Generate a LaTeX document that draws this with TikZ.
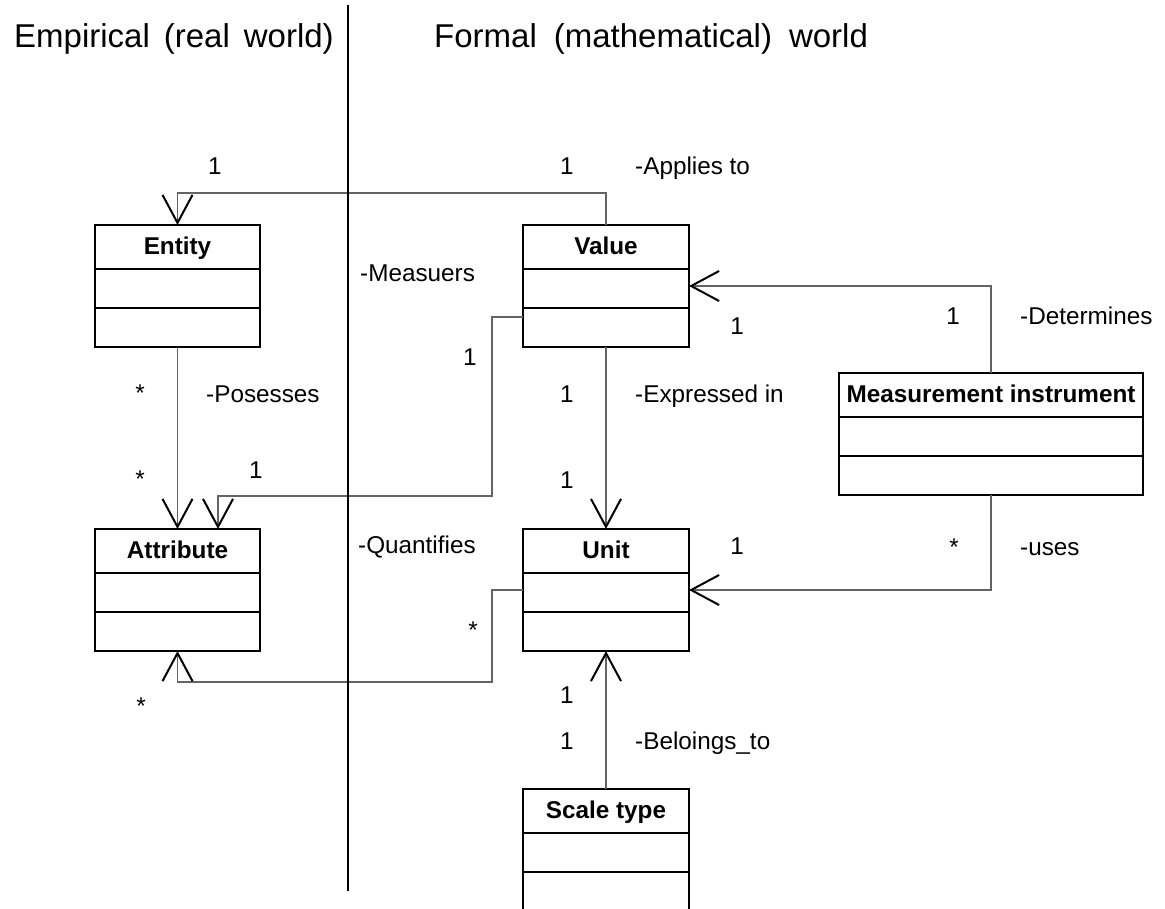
\documentclass[tikz,border=0pt]{standalone}
\usepackage{fontspec}
\setmainfont{Liberation Sans}
\usetikzlibrary{arrows.meta}
\definecolor{connline}{RGB}{100,100,100}

% A UML class box: name, centre x, top y, width, class name
\newcommand{\umlclass}[5]{%
  \node[classbox, minimum width=#4pt, anchor=north] (#1) at (#2,#3) {};
  \draw[classrule] ([yshift=-44pt]#1.north west) -- ([yshift=-44pt]#1.north east);
  \draw[classrule] ([yshift=-83pt]#1.north west) -- ([yshift=-83pt]#1.north east);
  \node[classname] (#1-name) at ([yshift=-29.5pt]#1.north) {#5};
}
% wider word spacing for the two headings
\newcommand{\widewords}[1]{\spaceskip=#1 plus 2pt\relax}

\tikzset{
  classbox/.style={draw=black, line width=2pt, fill=white, minimum height=122pt,
    inner sep=0pt, outer sep=0pt},
  classrule/.style={draw=black, line width=2pt},
  classname/.style={anchor=base, inner sep=0pt, font=\bfseries\fontsize{24.3}{29}\selectfont},
  conn/.style={draw=connline, line width=1.2pt},
  openhead/.style={-{Straight Barb[length=28pt,width=30pt,line width'=2pt,color=black]}},
  lbl/.style={anchor=base, inner sep=0pt, font=\fontsize{24.3}{29}\selectfont},
  lblw/.style={lbl, anchor=base west},
  divider/.style={draw=black, line width=2.5pt},
  heading/.style={anchor=base west, inner sep=0pt, font=\fontsize{33}{40}\selectfont},
}

\begin{document}
\begin{tikzpicture}[x=1pt, y=-1pt]
  \useasboundingbox (0,0) rectangle (1165,909);
  \clip (0,0) rectangle (1165,909);

  % headings of the two worlds
  \node[heading] (empirical) at (14,48) {\widewords{14pt}Empirical (real world)};
  \node[heading] (formal) at (434,48) {\widewords{17pt}Formal (mathematical) world};

  % classes
  \umlclass{entity}{177.5}{225}{165}{Entity}
  \umlclass{value}{606}{225}{166}{Value}
  \umlclass{attribute}{177.5}{529}{165}{Attribute}
  \umlclass{unit}{606}{529}{166}{Unit}
  \umlclass{instrument}{991}{373}{304}{Measurement instrument}
  \umlclass{scale}{606}{789}{166}{Scale type}

  % bend points of the routed associations
  \coordinate (appliesBend) at (400,193);
  \coordinate (measA) at (492,317);
  \coordinate (measB) at (492,496);
  \coordinate (quantBend) at (492,682);

  % associations
  \draw[conn, openhead] (value.north) |- (appliesBend) -| (entity.north);
  \draw[conn, openhead] (entity.south) -- (attribute.north);
  \draw[conn, openhead] (measA -| value.west) -- (measA) -- (measB)
    -| ([xshift=40.5pt]attribute.north);
  \draw[conn, openhead] (value.south) -- (unit.north);
  \draw[conn, openhead] (instrument.north) |- (value.east);
  \draw[conn, openhead] (instrument.south) |- (unit.east);
  \draw[conn, openhead] (unit.west) -| (quantBend) -| (attribute.south);
  \draw[conn, openhead] (scale.north) -- (unit.south);

  % divider between the empirical and the formal world
  \coordinate (divTop) at (348,5);
  \coordinate (divBottom) at (348,891);
  \draw[divider] (divTop) -- (divBottom);

  % role names and multiplicities
  \node[lbl] (m1) at (215,175) {1};
  \node[lbl] (m2) at (567,175) {1};
  \node[lblw] (r1) at (635,175) {-Applies to};
  \node[lblw] (r2) at (360,282) {-Measuers};
  \node[lbl] (m3) at (737,335) {1};
  \node[lbl] (m4) at (953,325) {1};
  \node[lblw] (r3) at (1020,325) {-Determines};
  \node[lbl] (m5) at (470,366) {1};
  \node[lbl] (m6) at (140,401) {*};
  \node[lblw] (r4) at (206,402) {-Posesses};
  \node[lbl] (m7) at (567,402) {1};
  \node[lblw] (r5) at (635,402) {-Expressed in};
  \node[lbl] (m8) at (140,487) {*};
  \node[lbl] (m9) at (256,478) {1};
  \node[lbl] (m10) at (567,488) {1};
  \node[lblw] (r6) at (358,553) {-Quantifies};
  \node[lbl] (m11) at (737,554) {1};
  \node[lbl] (m12) at (954,555) {*};
  \node[lblw] (r7) at (1020,555) {-uses};
  \node[lbl] (m13) at (473,638) {*};
  \node[lbl] (m14) at (141,714) {*};
  \node[lbl] (m15) at (567,703) {1};
  \node[lbl] (m16) at (567,749) {1};
  \node[lblw] (r8) at (635,749) {-Beloings\_to};
\end{tikzpicture}
\end{document}
